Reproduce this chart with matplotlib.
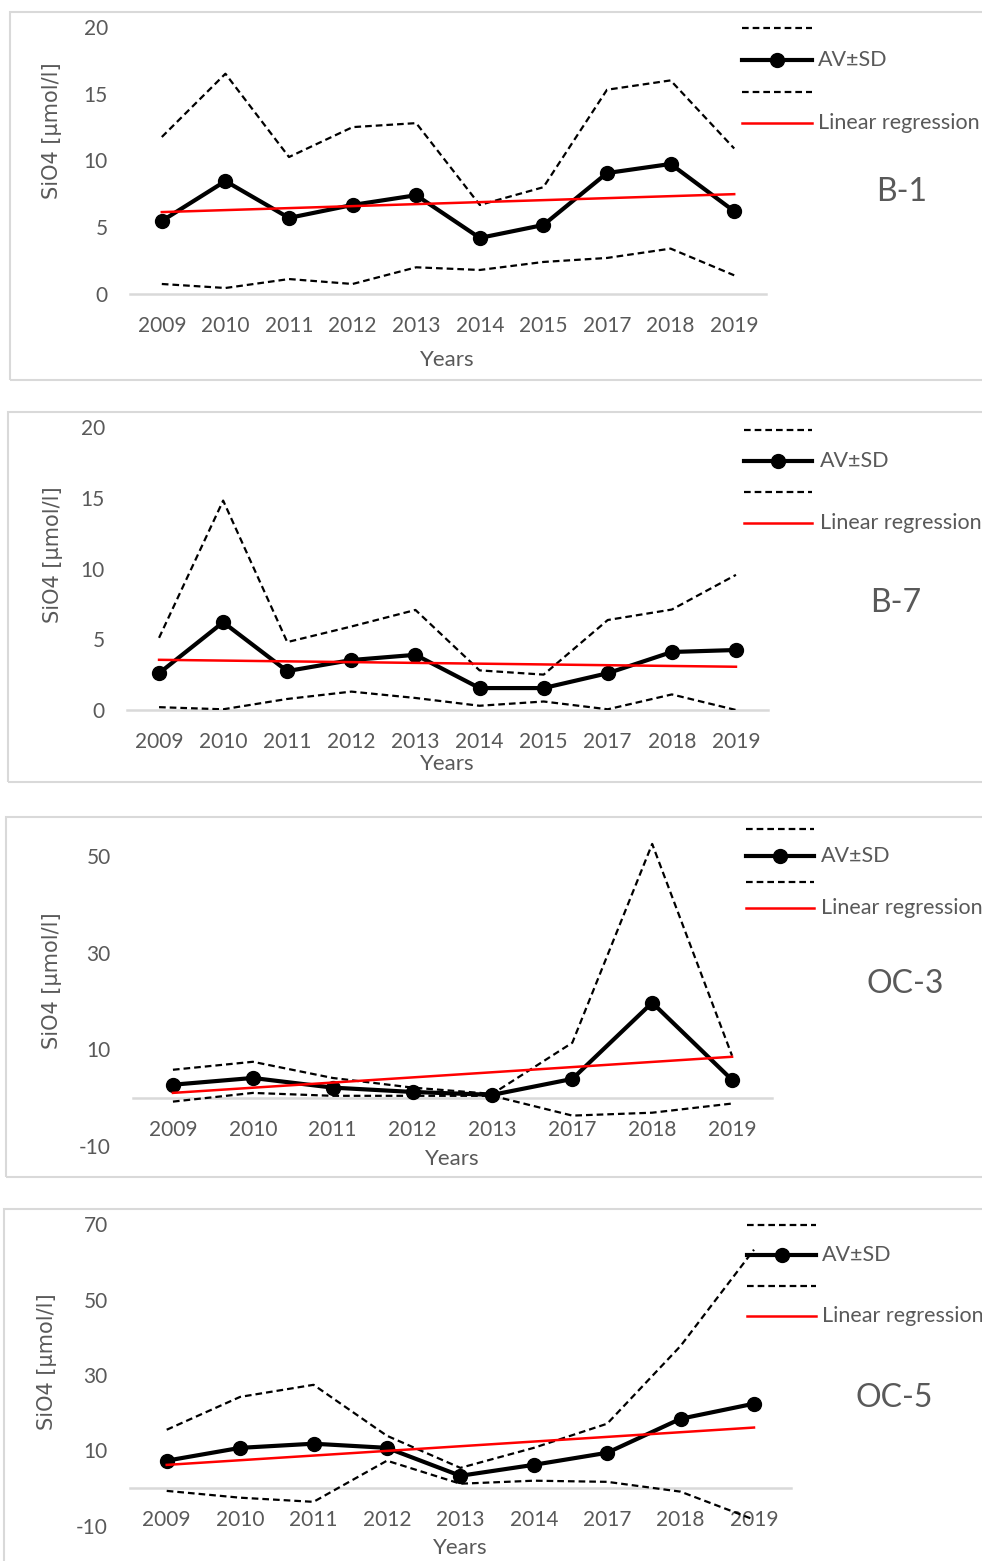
import numpy as np
import matplotlib
matplotlib.use("Agg")
import matplotlib.pyplot as plt
from matplotlib.lines import Line2D
from matplotlib.patches import Rectangle

# ---- data ----
years_b1 = ['2009', '2010', '2011', '2012', '2013', '2014', '2015', '2017', '2018', '2019']
b1_mean = [5.47, 8.46, 5.7, 6.67, 7.4, 4.2, 5.17, 9.06, 9.74, 6.2]
b1_upper = [11.76, 16.5, 10.26, 12.5, 12.8, 6.67, 8.0, 15.3, 16.0, 10.9]
b1_lower = [0.75, 0.45, 1.12, 0.75, 2.0, 1.8, 2.4, 2.7, 3.4, 1.4]

years_b7 = ['2009', '2010', '2011', '2012', '2013', '2014', '2015', '2017', '2018', '2019']
b7_mean = [2.6, 6.2, 2.75, 3.53, 3.9, 1.55, 1.55, 2.6, 4.1, 4.24]
b7_upper = [5.1, 14.8, 4.8, 5.9, 7.07, 2.8, 2.5, 6.36, 7.1, 9.55]
b7_lower = [0.2, 0.05, 0.78, 1.3, 0.85, 0.3, 0.6, 0.05, 1.1, 0.0]

years_oc3 = ['2009', '2010', '2011', '2012', '2013', '2017', '2018', '2019']
oc3_mean = [2.7, 4.1, 2.1, 1.2, 0.6, 3.9, 19.7, 3.7]
oc3_upper = [5.8, 7.45, 4.1, 2.1, 0.8, 11.4, 52.6, 8.7]
oc3_lower = [-0.8, 1.0, 0.4, 0.4, 0.4, -3.7, -3.1, -1.2]

years_oc5 = ['2009', '2010', '2011', '2012', '2013', '2014', '2017', '2018', '2019']
oc5_mean = [7.3, 10.7, 11.8, 10.7, 3.3, 6.2, 9.4, 18.4, 22.4]
oc5_upper = [15.5, 24.2, 27.4, 13.9, 5.4, 10.7, 17.1, 37.7, 63.2]
oc5_lower = [-0.7, -2.5, -3.6, 7.3, 1.2, 2.0, 1.7, -0.9, -8.3]

stations = ['B-1', 'B-7', 'OC-3', 'OC-5']

W, H = 982, 1561
GREY = '#595959'
LGREY = '#d9d9d9'
plt.rcParams['font.family'] = ['Lato', 'DejaVu Sans']
plt.rcParams['axes.unicode_minus'] = False

fig = plt.figure(figsize=(W / 100, H / 100), dpi=100)


def fx(px):
    return px / W


def fy(py):
    return 1 - py / H


# panel layout in pixels: box (x0, y0, y1), axes (left, right, top, bottom), ylim, yticks,
# ylabel centre, Years centre, station label centre, legend (x0, x1, rows y), text x
panels = [
    dict(box=(10, 12, 380), ax=(130, 766, 27, 294), ylim=(0, 20), yt=[0, 5, 10, 15, 20],
         yl=(52, 131), xl=(447, 360), st=(902, 192), leg=(742, 812, [28, 60, 92, 123], 818)),
    dict(box=(8, 412, 782), ax=(127, 768, 427, 710), ylim=(0, 20), yt=[0, 5, 10, 15, 20],
         yl=(53, 555), xl=(447, 764), st=(896, 603), leg=(744, 812, [430, 461, 492, 523], 820)),
    dict(box=(6, 817, 1177), ax=(133, 772, 822.7, 1146), ylim=(-10, 57), yt=[-10, 10, 30, 50],
         yl=(52, 981), xl=(452, 1159), st=(905, 984), leg=(746, 814, [829, 856, 882, 908], 821)),
    dict(box=(4, 1209, 1575), ax=(130, 790.7, 1224, 1526), ylim=(-10, 70), yt=[-10, 10, 30, 50, 70],
         yl=(47, 1362), xl=(460, 1548), st=(894, 1398), leg=(747, 816, [1225, 1255, 1286, 1316], 822)),
]

series = [
    (years_b1, b1_mean, b1_upper, b1_lower),
    (years_b7, b7_mean, b7_upper, b7_lower),
    (years_oc3, oc3_mean, oc3_upper, oc3_lower),
    (years_oc5, oc5_mean, oc5_upper, oc5_lower),
]

dash = (0, (3, 1.8))

for p, (yrs, mean, upper, lower), name in zip(panels, series, stations):
    bx0, by0, by1 = p['box']
    fig.patches.append(Rectangle((fx(bx0), fy(by1)), 1.2, (by1 - by0) / H,
                                 transform=fig.transFigure, fill=False,
                                 edgecolor=LGREY, lw=1.5, zorder=0))
    l, r, t, b = p['ax']
    ax = fig.add_axes([fx(l), fy(b), (r - l) / W, (b - t) / H])
    ax.patch.set_alpha(0)
    x = np.arange(len(yrs))
    ax.plot(x, upper, color='black', lw=1.6, ls=dash, zorder=2)
    ax.plot(x, lower, color='black', lw=1.6, ls=dash, zorder=2)
    ax.plot(x, mean, color='black', lw=3, marker='o', ms=10, zorder=3)
    k, c = np.polyfit(x, mean, 1)
    ax.plot(x, k * x + c, color='red', lw=1.8, zorder=4)

    ax.set_xlim(-0.5, len(yrs) - 0.5)
    ax.set_ylim(*p['ylim'])
    ax.set_xticks(x)
    ax.set_xticklabels(yrs)
    ax.set_yticks(p['yt'])
    for s in ['top', 'right', 'left']:
        ax.spines[s].set_visible(False)
    ax.spines['bottom'].set_position(('data', 0))
    ax.spines['bottom'].set_color(LGREY)
    ax.spines['bottom'].set_linewidth(1.8)
    ax.spines['bottom'].set_zorder(1)
    ax.tick_params(length=0, labelsize=15, labelcolor=GREY)
    ax.tick_params(axis='y', pad=16)
    ax.tick_params(axis='x', pad=16)

    fig.text(fx(p['yl'][0]), fy(p['yl'][1]), 'SiO4 [µmol/l]', rotation=90,
             ha='center', va='center', fontsize=15, color=GREY, family='DejaVu Sans')
    fig.text(fx(p['xl'][0]), fy(p['xl'][1]), 'Years', ha='center', va='center',
             fontsize=16, color=GREY)
    fig.text(fx(p['st'][0]), fy(p['st'][1]), name, ha='center', va='center',
             fontsize=23, color=GREY)

    # legend, drawn by hand in figure pixels
    lx0, lx1, rows, tx = p['leg']
    styles = [dict(color='black', lw=1.6, ls=dash),
              dict(color='black', lw=3, marker='o', ms=10, markevery=[1]),
              dict(color='black', lw=1.6, ls=dash),
              dict(color='red', lw=1.8)]
    labels = ['', 'AV±SD', '', 'Linear regression']
    for ry, st, lab in zip(rows, styles, labels):
        fig.add_artist(Line2D([fx(lx0), fx((lx0 + lx1) / 2), fx(lx1)], [fy(ry)] * 3,
                              transform=fig.transFigure, **st))
        if lab:
            fig.text(fx(tx), fy(ry), lab, ha='left', va='center', fontsize=15.5, color=GREY)

fig.savefig('out.png', dpi=100)
